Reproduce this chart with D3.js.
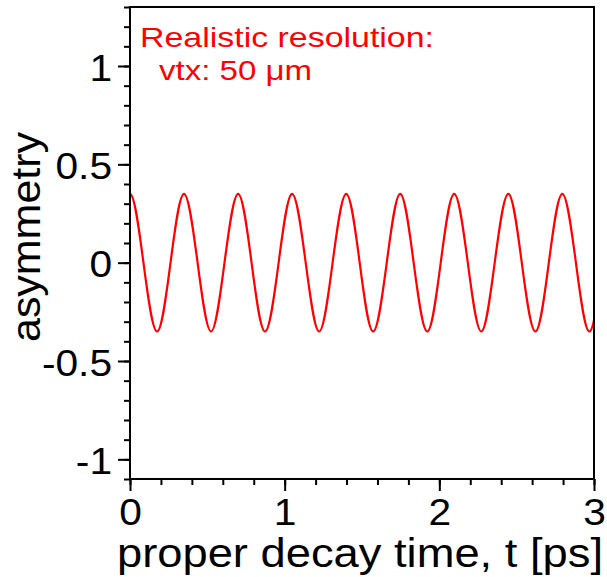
<!DOCTYPE html>
<html>
<head>
<meta charset="utf-8">
<script src="https://cdn.jsdelivr.net/npm/d3@7"></script>
<style>
  body { margin: 0; background: #fff; }
  text { font-family: "Liberation Sans", Arial, sans-serif; }
</style>
</head>
<body>
<div id="chart"></div>
<script>
// curve: extrema and zero crossings (quarter period steps),
// one step past each end so the spline keeps its shape at the frame
const times = [-0.087, 0.000, 0.087, 0.175, 0.262, 0.349, 0.437, 0.524, 0.611, 0.699, 0.786,
  0.873, 0.961, 1.048, 1.136, 1.223, 1.310, 1.398, 1.485, 1.572, 1.660,
  1.747, 1.834, 1.922, 2.009, 2.096, 2.184, 2.271, 2.358, 2.446, 2.533,
  2.621, 2.708, 2.795, 2.883, 2.970, 3.057];
const asym = [0, 0.35, 0, -0.35, 0, 0.35, 0, -0.35, 0, 0.35, 0,
  -0.35, 0, 0.35, 0, -0.35, 0, 0.35, 0, -0.35, 0,
  0.35, 0, -0.35, 0, 0.35, 0, -0.35, 0, 0.35, 0,
  -0.35, 0, 0.35, 0, -0.35, 0];

const xTicks = [0, 1, 2, 3];
const yTicks = [-1, -0.5, 0, 0.5, 1];
const xTitle = "proper decay time, t [ps]";
const yTitle = "asymmetry";
const noteLines = ["Realistic resolution:", "vtx: 50 \u03bcm"];

const W = 607, H = 577;
const margin = { top: 7, right: 13, bottom: 98, left: 130 };
const width = W - margin.left - margin.right;
const height = H - margin.top - margin.bottom;
const stretch = 1.1;

const svg = d3.select("#chart")
  .append("svg")
  .attr("width", W)
  .attr("height", H);

svg.append("defs").append("clipPath")
  .attr("id", "frame-clip")
  .append("rect")
  .attr("width", width)
  .attr("height", height);

const g = svg.append("g")
  .attr("transform", `translate(${margin.left}, ${margin.top})`);

const x = d3.scaleLinear().domain([0, 3]).range([0, width]);
const y = d3.scaleLinear().domain([-1.1, 1.3]).range([height, 0]);

// minor ticks
g.append("g")
  .attr("transform", `translate(0, ${height})`)
  .call(d3.axisBottom(x).tickValues(d3.range(0, 3.001, 0.2)).tickSize(6).tickFormat(""))
  .call(a => a.select(".domain").remove());
g.append("g")
  .call(d3.axisLeft(y).tickValues(d3.range(-1.1, 1.301, 0.1)).tickSize(6).tickFormat(""))
  .call(a => a.select(".domain").remove());

// major ticks with labels
const xAxis = g.append("g")
  .attr("transform", `translate(0, ${height})`)
  .call(d3.axisBottom(x).tickValues(xTicks).tickSize(12).tickFormat(d3.format("d")));
xAxis.select(".domain").remove();
xAxis.selectAll("text")
  .attr("y", 46)
  .attr("dy", 0)
  .attr("transform", `scale(${stretch},1)`);

const yAxis = g.append("g")
  .call(d3.axisLeft(y).tickValues(yTicks).tickSize(12).tickFormat(d => String(d)));
yAxis.select(".domain").remove();
yAxis.selectAll("text")
  .attr("x", -18 / stretch)
  .attr("dy", 14)
  .attr("transform", `scale(${stretch},1)`);

svg.selectAll(".tick line").attr("stroke", "#000").attr("stroke-width", 2);
svg.selectAll(".tick text")
  .attr("fill", "#000")
  .style("font-size", "37px")
  .style("font-family", "'Liberation Sans', Arial, sans-serif");

// curve
const pts = times.map((t, i) => [t, asym[i]]);
g.append("path")
  .datum(pts)
  .attr("clip-path", "url(#frame-clip)")
  .attr("fill", "none")
  .attr("stroke", "#ff0000")
  .attr("stroke-width", 2.2)
  .attr("d", d3.line().x(d => x(d[0])).y(d => y(d[1])).curve(d3.curveNatural));

// frame
g.append("rect")
  .attr("width", width)
  .attr("height", height)
  .attr("fill", "none")
  .attr("stroke", "#000")
  .attr("stroke-width", 2);

// axis titles
svg.append("text")
  .attr("x", 117)
  .attr("y", 567)
  .attr("textLength", 486)
  .attr("lengthAdjust", "spacingAndGlyphs")
  .style("font-size", "40px")
  .text(xTitle);

svg.append("text")
  .attr("transform", "translate(40, 342) rotate(-90)")
  .attr("textLength", 210)
  .attr("lengthAdjust", "spacingAndGlyphs")
  .style("font-size", "40px")
  .text(yTitle);

// note
svg.append("text")
  .attr("x", 140)
  .attr("y", 47)
  .attr("textLength", 294)
  .attr("lengthAdjust", "spacingAndGlyphs")
  .attr("fill", "#ff0000")
  .style("font-size", "28px")
  .text(noteLines[0]);
svg.append("text")
  .attr("x", 159)
  .attr("y", 80)
  .attr("textLength", 153)
  .attr("lengthAdjust", "spacingAndGlyphs")
  .attr("fill", "#ff0000")
  .style("font-size", "28px")
  .text(noteLines[1]);
</script>
</body>
</html>
